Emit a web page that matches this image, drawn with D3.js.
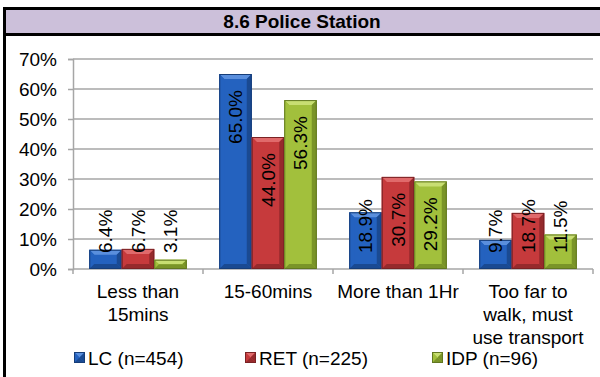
<!DOCTYPE html>
<html>
<head>
<meta charset="utf-8">
<script src="https://cdn.jsdelivr.net/npm/d3@7/dist/d3.min.js"></script>
<style>
  html, body { margin: 0; padding: 0; background: #fff; }
  svg { display: block; font-family: "Liberation Sans", Arial, sans-serif; }
</style>
</head>
<body>
<svg id="chart" width="600" height="377"></svg>
<script>
// Travel time to the nearest police station, share of respondents by group
const title = "8.6 Police Station";
const categories = [
  ["Less than", "15mins"],
  ["15-60mins"],
  ["More than 1Hr"],
  ["Too far to", "walk, must", "use transport"]
];
const seriesNames = ["LC (n=454)", "RET (n=225)", "IDP (n=96)"];
const lcValues  = [0.064, 0.650, 0.189, 0.097];
const retValues = [0.067, 0.440, 0.307, 0.187];
const idpValues = [0.031, 0.563, 0.292, 0.115];
const yTicks = [0, 0.1, 0.2, 0.3, 0.4, 0.5, 0.6, 0.7];

const seriesValues = [lcValues, retValues, idpValues];
const palette = [
  { face: "#2462bf", light: "#5a8fdd", dark: "#1a4a92", edge: "#163d78" },
  { face: "#c63a3c", light: "#e06a6b", dark: "#962a2c", edge: "#7a2224" },
  { face: "#a2c03c", light: "#c8de72", dark: "#7a9428", edge: "#617720" }
];

const svg = d3.select("#chart");
const catKeys = categories.map((c, i) => i);

const x = d3.scaleBand().domain(catKeys).range([73, 593]).paddingInner(0).paddingOuter(0);
const xs = d3.scaleBand().domain([0, 1, 2]).range([0, x.bandwidth()]).paddingInner(0).paddingOuter(0.5);
const y = d3.scaleLinear().domain([0, 0.7]).range([269, 59]);

// Frame and title band
svg.append("rect").attr("x", 3).attr("y", 7).attr("width", 600).attr("height", 3).attr("fill", "#000");
svg.append("rect").attr("x", 3).attr("y", 10).attr("width", 600).attr("height", 23).attr("fill", "#ccc0da");
svg.append("rect").attr("x", 3).attr("y", 33).attr("width", 600).attr("height", 3).attr("fill", "#000");
svg.append("rect").attr("x", 3).attr("y", 7).attr("width", 3).attr("height", 370).attr("fill", "#000");
svg.append("text")
  .attr("x", 302).attr("y", 28)
  .attr("text-anchor", "middle")
  .attr("font-size", 19).attr("font-weight", "bold")
  .text(title);

// Gridlines
const gridColor = "#a6a6a6";
svg.append("g").selectAll("line").data(yTicks.slice(1)).join("line")
  .attr("x1", 73).attr("x2", 593)
  .attr("y1", d => y(d)).attr("y2", d => y(d))
  .attr("stroke", gridColor).attr("stroke-width", 1.5);

// Y axis
const yAxis = d3.axisLeft(y).tickValues(yTicks).tickFormat(d3.format(".0%")).tickSize(5).tickPadding(11);
const gy = svg.append("g").attr("transform", "translate(73,0)").call(yAxis);
gy.select(".domain").attr("stroke", gridColor).attr("stroke-width", 1.5);
gy.selectAll(".tick line").attr("stroke", gridColor).attr("stroke-width", 1.5);
gy.selectAll(".tick text").attr("font-size", 19).attr("fill", "#000")
  .attr("font-family", "Liberation Sans, Arial, sans-serif");

// X axis with ticks at category boundaries
svg.append("line").attr("x1", 73).attr("x2", 593).attr("y1", y(0)).attr("y2", y(0))
  .attr("stroke", gridColor).attr("stroke-width", 1.5);
const bounds = catKeys.map(k => x(k)).concat([x(catKeys[catKeys.length - 1]) + x.bandwidth()]);
svg.append("g").selectAll("line").data(bounds).join("line")
  .attr("x1", d => d).attr("x2", d => d)
  .attr("y1", y(0)).attr("y2", y(0) + 5)
  .attr("stroke", gridColor).attr("stroke-width", 1.5);

// Category labels
const catG = svg.append("g");
categories.forEach((lines, i) => {
  const t = catG.append("text")
    .attr("x", x(i) + x.bandwidth() / 2)
    .attr("y", 298)
    .attr("text-anchor", "middle")
    .attr("font-size", 19);
  lines.forEach((ln, j) => {
    t.append("tspan").attr("x", x(i) + x.bandwidth() / 2).attr("dy", j === 0 ? 0 : 23).text(ln);
  });
});

// Bevelled bar drawing
function bevelBar(g, bx, by, bw, bh, c) {
  const b = Math.min(5, bh / 2, bw / 2);
  const x0 = bx, x1 = bx + bw, y0 = by, y1 = by + bh;
  g.append("rect").attr("x", x0).attr("y", y0).attr("width", bw).attr("height", bh).attr("fill", c.face);
  const poly = (pts, fill) => g.append("polygon").attr("points", pts.map(p => p.join(",")).join(" ")).attr("fill", fill);
  poly([[x0, y0], [x1, y0], [x1 - b, y0 + b], [x0 + b, y0 + b]], c.light);
  poly([[x0, y0], [x0 + b, y0 + b], [x0 + b, y1 - b], [x0, y1]], c.face);
  poly([[x1, y0], [x1, y1], [x1 - b, y1 - b], [x1 - b, y0 + b]], c.dark);
  poly([[x0, y1], [x0 + b, y1 - b], [x1 - b, y1 - b], [x1, y1]], c.dark);
  g.append("rect").attr("x", x0 + 0.5).attr("y", y0 + 0.5).attr("width", bw - 1).attr("height", Math.max(0, bh - 1))
    .attr("fill", "none").attr("stroke", c.edge).attr("stroke-width", 1);
}

const barsG = svg.append("g");
const labelsG = svg.append("g");
const fmt = d3.format(".1%");

seriesValues.forEach((vals, s) => {
  vals.forEach((v, i) => {
    const bx = x(i) + xs(s);
    const bw = xs.bandwidth();
    const top = y(v);
    bevelBar(barsG, bx, top, bw, y(0) - top, palette[s]);
  });
});

seriesValues.forEach((vals, s) => {
  vals.forEach((v, i) => {
    const cx = x(i) + xs(s) + xs.bandwidth() / 2;
    const top = y(v);
    const t = labelsG.append("text")
      .attr("font-size", 19)
      .attr("dominant-baseline", "central")
      .attr("text-anchor", "start")
      .text(fmt(v));
    const len = t.node().getComputedTextLength();
    const start = Math.min(top + 16 + len, y(0) - 16);
    t.attr("transform", `translate(${cx},${start}) rotate(-90)`);
  });
});

// Legend
const legendX = [74, 245, 432];
const legendG = svg.append("g");
seriesNames.forEach((name, s) => {
  const lx = legendX[s];
  bevelBar(legendG, lx, 352, 11, 11, { ...palette[s], edge: palette[s].edge });
  legendG.append("text").attr("x", lx + 14).attr("y", 365).attr("font-size", 19).text(name);
});
</script>
</body>
</html>
